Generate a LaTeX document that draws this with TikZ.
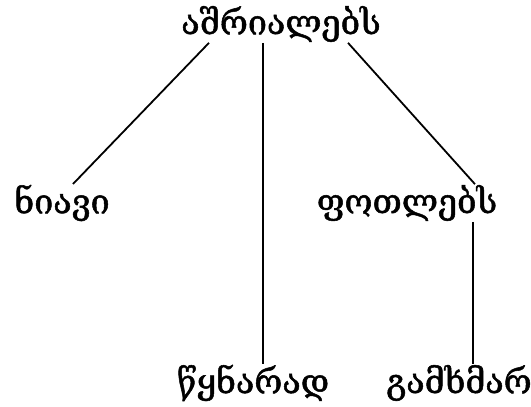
\documentclass[tikz,border=0pt]{standalone}
\usepackage{fontspec}
\newfontfamily\geofont[FakeBold=1.5]{DejaVu Serif}
\usepackage{tikz}

\begin{document}
\begin{tikzpicture}[x=1pt,y=-1pt,line width=1.8pt,
  word/.style={inner sep=0pt,font=\geofont\fontsize{34}{40}\selectfont}]
\useasboundingbox (0,0) rectangle (531,407);
\node[word] (top) at (281,24) {აშრიალებს};
\node[word] (wind) at (62,203) {ნიავი};
\node[word] (leaves) at (407,203) {ფოთლებს};
\node[word] (calm) at (253,383) {წყნარად};
\node[word] (dry) at (459,383) {გამხმარ};
\draw (top.south -| 209,0) -- (wind.north -| 73,0);
\draw (top.south -| 263,0) -- (calm.north -| 263,0);
\draw (top.south -| 348,0) -- (leaves.north -| 475,0);
\draw (leaves.south -| 473,0) -- (dry.north -| 473,0);
\end{tikzpicture}
\end{document}
